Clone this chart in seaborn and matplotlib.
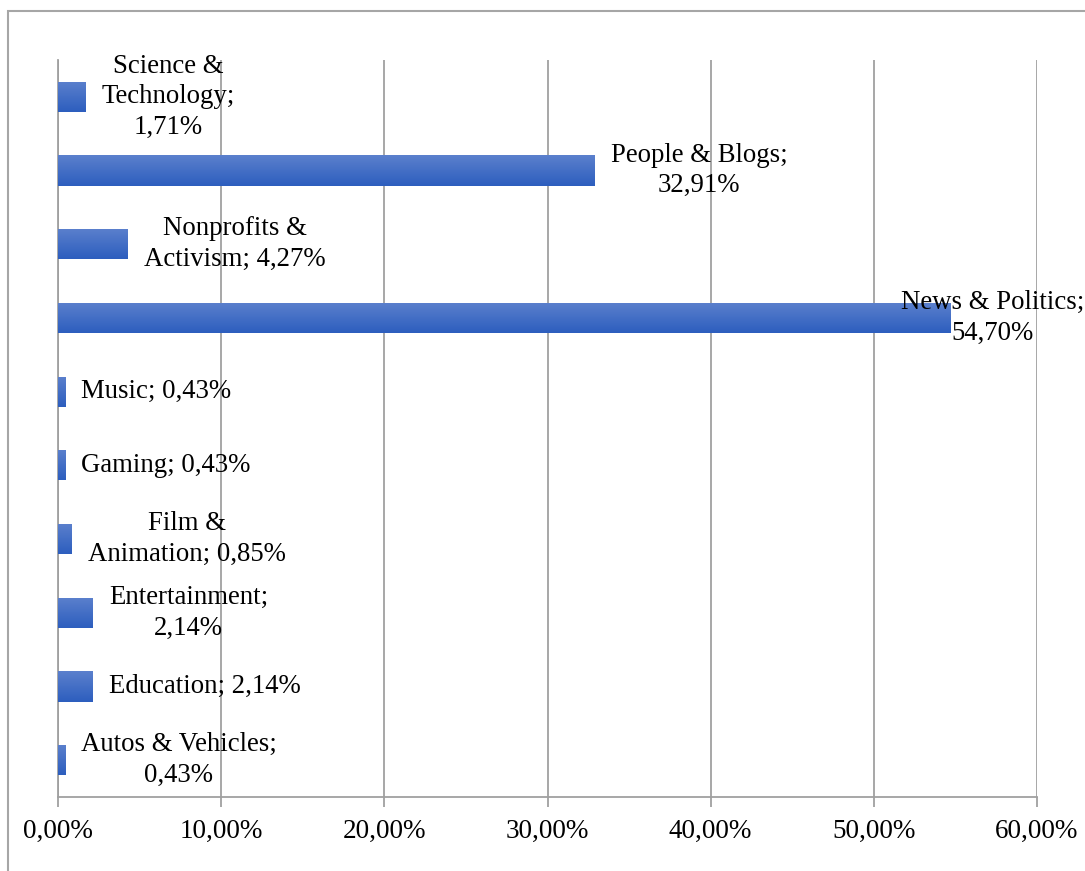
import numpy as np
import pandas as pd
import matplotlib
matplotlib.use("Agg")
import matplotlib.pyplot as plt
import seaborn as sns
from matplotlib.patches import Rectangle
from matplotlib.ticker import FuncFormatter

# data (top to bottom as in the chart)
categories = ["Science & Technology", "People & Blogs", "Nonprofits & Activism",
              "News & Politics", "Music", "Gaming", "Film & Animation",
              "Entertainment", "Education", "Autos & Vehicles"]
shares = [1.71, 32.91, 4.27, 54.70, 0.43, 0.43, 0.85, 2.14, 2.14, 0.43]
label_names = ["Science &\nTechnology;", "People & Blogs;", "Nonprofits &\nActivism;",
               "News & Politics;", "Music;", "Gaming;", "Film &\nAnimation;",
               "Entertainment;", "Education;", "Autos & Vehicles;"]
# does the value go on its own line?
value_on_new_line = [True, True, False, True, False, False, False, True, False, True]
x_ticks = [0, 10, 20, 30, 40, 50, 60]


def pct(v):
    return f"{v:.2f}".replace(".", ",") + "%"


def main():
    df = pd.DataFrame({"category": categories, "share": shares})

    sns.set_style("white")
    plt.rcParams["font.family"] = ["Liberation Serif", "DejaVu Serif"]
    plt.rcParams["text.color"] = "black"

    fig = plt.figure(figsize=(10.85, 8.71), dpi=100)
    ax = fig.add_axes([58 / 1085, 74 / 871, (1037 - 58) / 1085, (797 - 60) / 871])

    sns.barplot(data=df, y="category", x="share", orient="h", color="#3f6cc8",
                width=0.41, ax=ax, zorder=3)

    # vertical gradient on each bar, like the Office fill
    grad = np.linspace(0, 1, 64).reshape(-1, 1)
    cmap = matplotlib.colors.LinearSegmentedColormap.from_list("bar", ["#5b80cd", "#2d5ebe"])
    for p in ax.patches:
        x0, y0 = p.get_x(), p.get_y()
        w, h = p.get_width(), p.get_height()
        im = ax.imshow(grad, cmap=cmap, aspect="auto", extent=[x0, x0 + w, y0 + h, y0],
                       zorder=4, interpolation="bilinear")
        im.set_clip_path(p)
        p.set_edgecolor("none")

    ax.set_xlim(0, 60)
    ax.set_ylim(len(categories) - 0.5, -0.5)
    ax.set_xticks(x_ticks)
    ax.xaxis.set_major_formatter(FuncFormatter(lambda v, _: pct(v)))
    ax.grid(axis="x", color="#a0a0a0", linewidth=1.3, zorder=0)
    ax.set_axisbelow(True)
    ax.set_yticks([])
    ax.set_xlabel("")
    ax.set_ylabel("")
    for side in ["top", "right"]:
        ax.spines[side].set_visible(False)
    for side in ["left", "bottom"]:
        ax.spines[side].set_color("#a0a0a0")
        ax.spines[side].set_linewidth(1.3)
    ax.tick_params(axis="x", bottom=True, length=7, width=1.3, color="#a0a0a0",
                   pad=9, labelsize=19.5, labelcolor="black")

    # data labels (offsets in pixels from the bar end)
    for i, (name, v, nl) in enumerate(zip(label_names, shares, value_on_new_line)):
        text = name + ("\n" if nl else " ") + pct(v)
        dx = -50 if v > 50 else 16
        ax.annotate(text, xy=(v, i), xytext=(dx * 0.72, 0), textcoords="offset points",
                    ha="left", va="center", multialignment="center", color="black",
                    fontsize=19.3, linespacing=1.3, zorder=6, annotation_clip=False)

    # outer chart frame
    fig.patches.append(Rectangle((8 / 1085, -0.2), 2, 1.2 - 11 / 871,
                                 transform=fig.transFigure, fill=False,
                                 edgecolor="#a6a6a6", linewidth=1.5))

    fig.savefig("out.png", dpi=100)


if __name__ == "__main__":
    main()
